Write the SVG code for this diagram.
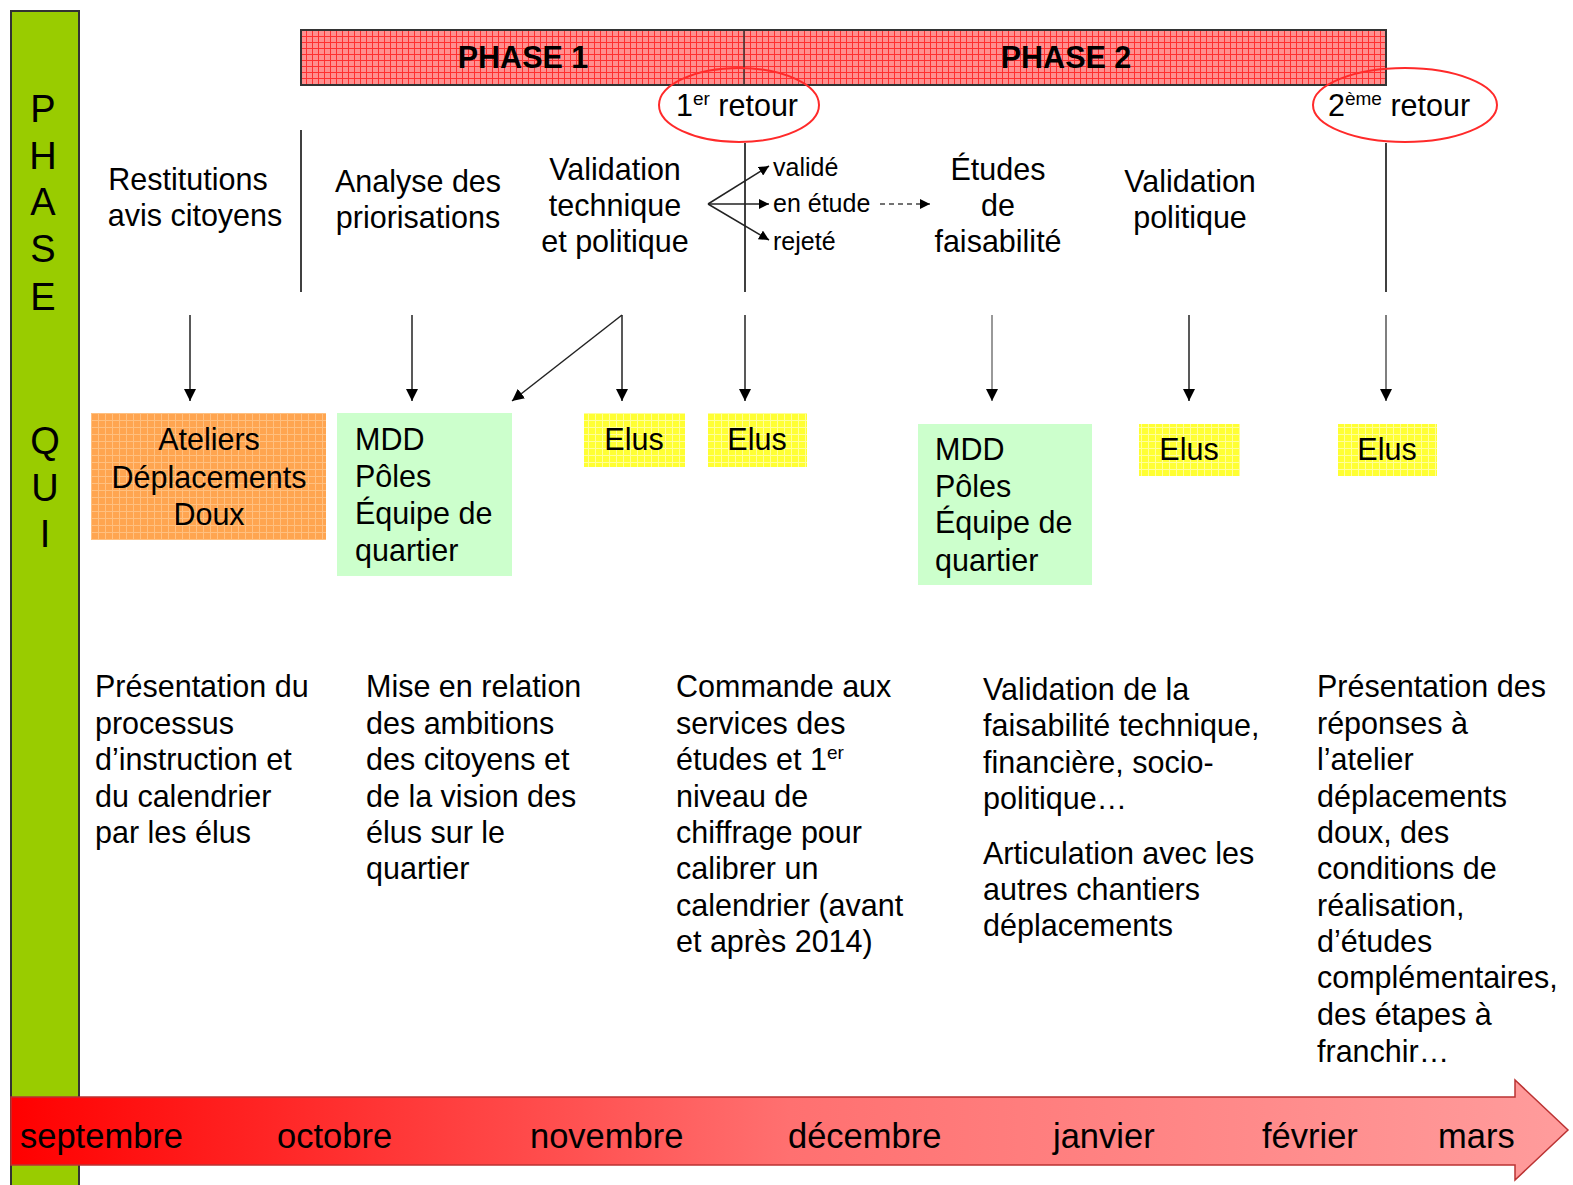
<svg xmlns="http://www.w3.org/2000/svg" width="1573" height="1185" viewBox="0 0 1573 1185">
<defs>
<pattern id="pRed" width="6" height="6" patternUnits="userSpaceOnUse">
<rect width="6" height="6" fill="#ff8f8f"/>
<path d="M0 0.5H6M0.5 0V6" stroke="#ff3030" stroke-width="1"/>
</pattern>
<pattern id="pOrange" width="7" height="7" patternUnits="userSpaceOnUse">
<rect width="7" height="7" fill="#ffa550"/>
<path d="M0 0.5H7M0.5 0V7" stroke="#ffc080" stroke-width="1"/>
</pattern>
<pattern id="pYellow" width="7" height="7" patternUnits="userSpaceOnUse">
<rect width="7" height="7" fill="#ffff33"/>
<path d="M0 0.5H7M0.5 0V7" stroke="#ffff99" stroke-width="1"/>
</pattern>
<linearGradient id="gTime" x1="0" y1="0" x2="1" y2="0">
<stop offset="0" stop-color="#ff0000"/>
<stop offset="0.5" stop-color="#ff7070"/>
<stop offset="1" stop-color="#ff9c9c"/>
</linearGradient>
<marker id="ah" viewBox="0 0 10 10" refX="10" refY="5" markerWidth="10" markerHeight="10" markerUnits="userSpaceOnUse" orient="auto">
<path d="M0 0L10 5L0 10Z" fill="#000"/>
</marker>
<marker id="ahBig" viewBox="0 0 12 12" refX="12" refY="6" markerWidth="12" markerHeight="12" markerUnits="userSpaceOnUse" orient="auto">
<path d="M0 0L12 6L0 12Z" fill="#000"/>
</marker>
</defs>
<style>
text{font-family:"Liberation Sans",Arial,sans-serif;fill:#000}
.t30{font-size:30.5px}
.t25{font-size:25px}
.mid{text-anchor:middle}
.bold{font-weight:bold}
.vert{font-size:38px;text-anchor:middle}
.month{font-size:34.5px}
.sup{font-size:19px}
.ln{stroke:#000;stroke-width:1.5;fill:none}
.arr{stroke:#222;stroke-width:1.5;fill:none;marker-end:url(#ahBig)}
.sm{stroke:#222;stroke-width:1.5;fill:none;marker-end:url(#ah)}
.ell{fill:none;stroke:#ff2a2a;stroke-width:2}
.green{fill:#ccffcc}
</style>
<rect width="1573" height="1185" fill="#fff"/>

<g id="side-bar">
<rect x="11" y="11" width="68" height="1180" fill="#99cc00" stroke="#333" stroke-width="2"/>
<text class="vert" x="43" y="122">P</text>
<text class="vert" x="43" y="169">H</text>
<text class="vert" x="43" y="215">A</text>
<text class="vert" x="43" y="262">S</text>
<text class="vert" x="43" y="310">E</text>
<text class="vert" x="45" y="454">Q</text>
<text class="vert" x="45" y="501">U</text>
<text class="vert" x="45" y="547">I</text>
</g>

<g id="phase-bar">
<rect x="301" y="30" width="1085" height="55" fill="url(#pRed)" stroke="#333" stroke-width="2"/>
<line x1="744" y1="30" x2="744" y2="85" stroke="#333" stroke-width="1.5"/>
<text class="t30 mid bold" x="523" y="68">PHASE 1</text>
<text class="t30 mid bold" x="1066" y="68">PHASE 2</text>
</g>

<g id="retour1">
<ellipse class="ell" cx="739" cy="105" rx="80" ry="37"/>
<text class="t30" x="676" y="116">1<tspan class="sup" dy="-11">er</tspan><tspan dy="11"> retour</tspan></text>
</g>
<g id="retour2">
<ellipse class="ell" cx="1405" cy="105" rx="92" ry="37"/>
<text class="t30" x="1328" y="116">2<tspan class="sup" dy="-11">ème</tspan><tspan dy="11"> retour</tspan></text>
</g>

<g id="step-restitutions">
<text class="t30 mid" x="188" y="190">Restitutions</text>
<text class="t30 mid" x="195" y="226">avis citoyens</text>
</g>
<g id="step-analyse">
<text class="t30 mid" x="418" y="192">Analyse des</text>
<text class="t30 mid" x="418" y="228">priorisations</text>
</g>
<g id="step-validation-tech">
<text class="t30 mid" x="615" y="180">Validation</text>
<text class="t30 mid" x="615" y="216">technique</text>
<text class="t30 mid" x="615" y="252">et politique</text>
</g>
<g id="branch-labels">
<text class="t25" x="773" y="176">validé</text>
<text class="t25" x="773" y="212">en étude</text>
<text class="t25" x="773" y="250">rejeté</text>
</g>
<g id="step-etudes">
<text class="t30 mid" x="998" y="180">Études</text>
<text class="t30 mid" x="998" y="216">de</text>
<text class="t30 mid" x="998" y="252">faisabilité</text>
</g>
<g id="step-validation-pol">
<text class="t30 mid" x="1190" y="192">Validation</text>
<text class="t30 mid" x="1190" y="228">politique</text>
</g>

<g id="box-ateliers">
<rect x="91" y="413" width="235" height="127" fill="url(#pOrange)"/>
<text class="t30 mid" x="209" y="450">Ateliers</text>
<text class="t30 mid" x="209" y="488">Déplacements</text>
<text class="t30 mid" x="209" y="525">Doux</text>
</g>
<g id="box-mdd1">
<rect class="green" x="337" y="413" width="175" height="163"/>
<text class="t30" x="355" y="450">MDD</text>
<text class="t30" x="355" y="487">Pôles</text>
<text class="t30" x="355" y="524">Équipe de</text>
<text class="t30" x="355" y="561">quartier</text>
</g>
<g id="box-elus1">
<rect x="584" y="413" width="101" height="54" fill="url(#pYellow)"/>
<text class="t30 mid" x="634" y="450">Elus</text>
</g>
<g id="box-elus2">
<rect x="708" y="413" width="99" height="54" fill="url(#pYellow)"/>
<text class="t30 mid" x="757" y="450">Elus</text>
</g>
<g id="box-mdd2">
<rect class="green" x="918" y="424" width="174" height="161"/>
<text class="t30" x="935" y="460">MDD</text>
<text class="t30" x="935" y="497">Pôles</text>
<text class="t30" x="935" y="533">Équipe de</text>
<text class="t30" x="935" y="571">quartier</text>
</g>
<g id="box-elus3">
<rect x="1139" y="424" width="101" height="52" fill="url(#pYellow)"/>
<text class="t30 mid" x="1189" y="460">Elus</text>
</g>
<g id="box-elus4">
<rect x="1338" y="424" width="99" height="52" fill="url(#pYellow)"/>
<text class="t30 mid" x="1387" y="460">Elus</text>
</g>

<g id="desc-1">
<text class="t30" x="95" y="697">Présentation du</text>
<text class="t30" x="95" y="734">processus</text>
<text class="t30" x="95" y="770">d’instruction et</text>
<text class="t30" x="95" y="807">du calendrier</text>
<text class="t30" x="95" y="843">par les élus</text>
</g>
<g id="desc-2">
<text class="t30" x="366" y="697">Mise en relation</text>
<text class="t30" x="366" y="734">des ambitions</text>
<text class="t30" x="366" y="770">des citoyens et</text>
<text class="t30" x="366" y="807">de la vision des</text>
<text class="t30" x="366" y="843">élus sur le</text>
<text class="t30" x="366" y="879">quartier</text>
</g>
<g id="desc-3">
<text class="t30" x="676" y="697">Commande aux</text>
<text class="t30" x="676" y="734">services des</text>
<text class="t30" x="676" y="770">études et 1<tspan class="sup" dy="-11">er</tspan></text>
<text class="t30" x="676" y="807">niveau de</text>
<text class="t30" x="676" y="843">chiffrage pour</text>
<text class="t30" x="676" y="879">calibrer un</text>
<text class="t30" x="676" y="916">calendrier (avant</text>
<text class="t30" x="676" y="952">et après 2014)</text>
</g>
<g id="desc-4">
<text class="t30" x="983" y="700">Validation de la</text>
<text class="t30" x="983" y="736">faisabilité technique,</text>
<text class="t30" x="983" y="773">financière, socio-</text>
<text class="t30" x="983" y="809">politique…</text>
<text class="t30" x="983" y="864">Articulation avec les</text>
<text class="t30" x="983" y="900">autres chantiers</text>
<text class="t30" x="983" y="936">déplacements</text>
</g>
<g id="desc-5">
<text class="t30" x="1317" y="697">Présentation des</text>
<text class="t30" x="1317" y="734">réponses à</text>
<text class="t30" x="1317" y="770">l’atelier</text>
<text class="t30" x="1317" y="807">déplacements</text>
<text class="t30" x="1317" y="843">doux, des</text>
<text class="t30" x="1317" y="879">conditions de</text>
<text class="t30" x="1317" y="916">réalisation,</text>
<text class="t30" x="1317" y="952">d’études</text>
<text class="t30" x="1317" y="988">complémentaires,</text>
<text class="t30" x="1317" y="1025">des étapes à</text>
<text class="t30" x="1317" y="1062">franchir…</text>
</g>

<g id="connectors">
<line class="ln" x1="301" y1="130" x2="301" y2="292"/>
<line class="ln" x1="745" y1="143" x2="745" y2="292"/>
<line class="ln" x1="1386" y1="143" x2="1386" y2="292"/>
<line class="sm" x1="708" y1="204" x2="769" y2="166"/>
<line class="sm" x1="708" y1="204" x2="769" y2="204"/>
<line class="sm" x1="708" y1="204" x2="769" y2="240"/>
<line x1="880" y1="204" x2="930" y2="204" stroke="#444" stroke-width="1.5" stroke-dasharray="5 4" marker-end="url(#ah)"/>
<line class="arr" x1="190" y1="315" x2="190" y2="401"/>
<line class="arr" x1="412" y1="315" x2="412" y2="401"/>
<line class="arr" x1="622" y1="315" x2="622" y2="401"/>
<line class="arr" x1="622" y1="315" x2="512" y2="401"/>
<line class="arr" x1="745" y1="315" x2="745" y2="401"/>
<line class="arr" x1="992" y1="315" x2="992" y2="401" style="stroke:#777"/>
<line class="arr" x1="1189" y1="315" x2="1189" y2="401"/>
<line class="arr" x1="1386" y1="315" x2="1386" y2="401" style="stroke:#555"/>
</g>

<g id="timeline">
<polygon points="11,1097 1515,1097 1515,1080 1568,1130 1515,1180 1515,1165 11,1165" fill="url(#gTime)" stroke="#b33" stroke-width="1.5"/>
<text class="month" x="20" y="1148">septembre</text>
<text class="month" x="277" y="1148">octobre</text>
<text class="month" x="530" y="1148">novembre</text>
<text class="month" x="788" y="1148">décembre</text>
<text class="month" x="1053" y="1148">janvier</text>
<text class="month" x="1262" y="1148">février</text>
<text class="month" x="1438" y="1148">mars</text>
</g>
</svg>
